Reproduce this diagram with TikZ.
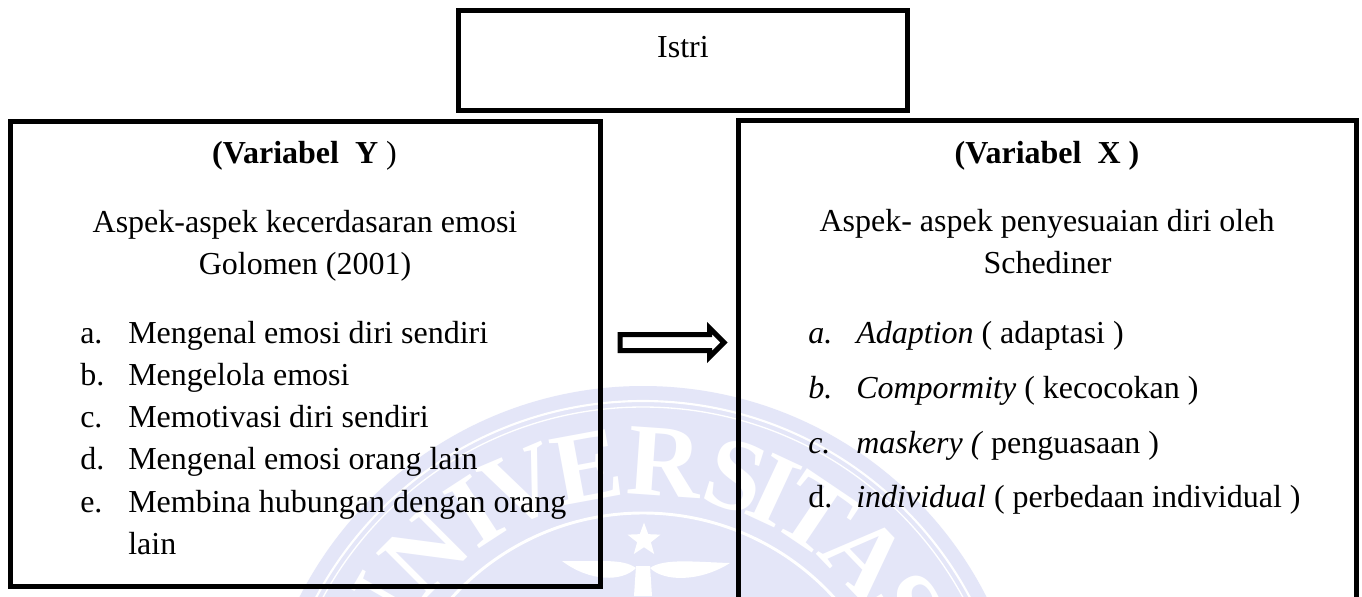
\documentclass[tikz,border=0pt]{standalone}
\usepackage{fontspec}
\usetikzlibrary{shapes.geometric}
\setmainfont{Liberation Serif}
\definecolor{wm}{RGB}{228,230,248}
\newcommand{\px}[1]{\fontsize{#1}{#1}\selectfont}
\tikzset{
  x=0.75pt,y=-0.75pt,
  frame/.style={draw=black,line width=3.75pt,fill=none,rectangle,inner sep=0pt},
  txt/.style={font=\px{24},anchor=base,inner sep=0pt,text=black},
  lft/.style={font=\px{24},anchor=base west,inner sep=0pt,text=black},
  wmtxt/.style={font=\px{77}\bfseries,text=white,inner sep=0pt}
}
\begin{document}
\begin{tikzpicture}
\useasboundingbox (0,0) rectangle (1362,596);
\fill[white] (0,0) rectangle (1362,596);
% watermark seal
\begin{scope}
\clip (0,0) rectangle (1362,596);
\fill[wm] (643,771) circle[radius=385];
\draw[white,line width=1.6pt] (643,771) circle[radius=370];
\draw[white,line width=1pt] (643,771) circle[radius=364];
\draw[white,line width=2.2pt] (643,771) circle[radius=258];
\foreach \t/\a in {U/60,N/45,I/33,V/23,E/10.5,R/-4,S/-17.5,I/-25,T/-34,A/-46,S/-58}{
  \node[wmtxt,rotate=\a] at ({643-309*sin(\a)},{771-309*cos(\a)}) {\t};
}
\node[star,star points=5,star point ratio=2.4,fill=white,minimum size=26pt,inner sep=0pt] (wstar) at (644,540) {};
\fill[white] (562,561) .. controls (590,582) and (622,582) .. (636,568) .. controls (622,558) and (600,562) .. (562,561) -- cycle;
\fill[white] (730,563) .. controls (700,582) and (664,582) .. (650,568) .. controls (664,558) and (695,562) .. (730,563) -- cycle;
\fill[white] (636,566) -- (650,566) -- (652,596) -- (634,596) -- cycle;
\end{scope}
% boxes
\node[frame,minimum width=337.1pt,minimum height=75pt] (istri) at (683.25,60.5) {};
\node[frame,minimum width=442.5pt,minimum height=348.4pt] (ybox) at (305,353.75) {};
\node[frame,minimum width=463.5pt,minimum height=374.6pt] (xbox) at (1047.5,370.25) {};
% arrow
\draw[black,line width=3.75pt,fill=white,miter limit=10] (620,334.5) -- (709.5,334.5) -- (709.5,328) -- (724,342.5) -- (709.5,357) -- (709.5,350.5) -- (620,350.5) -- cycle;
% texts
\node[txt] (t0) at (683,57) {Istri};
\node[txt] (t1) at (304.5,163) {\textbf{(Variabel\ \ Y} )};
\node[txt] (t2) at (305,232) {Aspek-aspek kecerdasaran emosi};
\node[txt] (t3) at (305,274) {Golomen (2001)};
\node[lft] (a1) at (80,343) {a.};
\node[lft] (a2) at (128,343) {Mengenal emosi diri sendiri};
\node[lft] (b1) at (80,385) {b.};
\node[lft] (b2) at (128,385) {Mengelola emosi};
\node[lft] (c1) at (80,427) {c.};
\node[lft] (c2) at (128,427) {Memotivasi diri sendiri};
\node[lft] (d1) at (80,469) {d.};
\node[lft] (d2) at (128,469) {Mengenal emosi orang lain};
\node[lft] (e1) at (80,512) {e.};
\node[lft] (e2) at (128,512) {Membina hubungan dengan orang};
\node[lft] (e3) at (128,554) {lain};
\node[txt] (r1) at (1047,163) {\textbf{(Variabel\ \ X )}};
\node[txt] (r2) at (1047,231) {Aspek- aspek penyesuaian diri oleh};
\node[txt] (r3) at (1047.5,273) {Schediner};
\node[lft] (p1) at (808,343) {\textit{a.}};
\node[lft] (p2) at (856,343) {\textit{Adaption} ( adaptasi )};
\node[lft] (q1) at (808,398) {\textit{b.}};
\node[lft] (q2) at (856,398) {\textit{Compormity} ( kecocokan )};
\node[lft] (s1) at (808,453) {\textit{c.}};
\node[lft] (s2) at (856,453) {\textit{maskery (} penguasaan )};
\node[lft] (u1) at (808,507) {d.};
\node[lft] (u2) at (856,507) {\textit{individual} ( perbedaan individual )};
\end{tikzpicture}
\end{document}
